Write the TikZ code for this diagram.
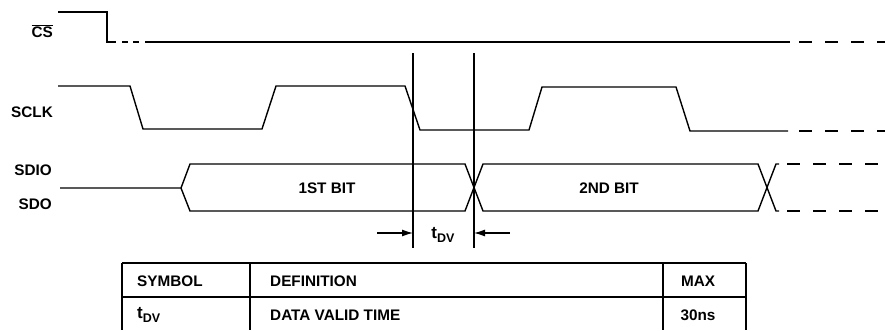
\documentclass[tikz,border=0pt]{standalone}
\usepackage{fontspec}
\setmainfont{Liberation Sans}
\usetikzlibrary{arrows.meta}
\tikzset{
  sig/.style={line width=1.4pt, line join=miter},
  dsig/.style={line width=1.4pt, dash pattern=on 13pt off 13pt},
  marker/.style={line width=1.1pt},
  lbl/.style={font=\fontsize{15.3}{17}\selectfont\bfseries, inner sep=0pt},
  tlbl/.style={font=\fontsize{17}{19}\selectfont\bfseries, inner sep=0pt},
  tbl/.style={line width=1.2pt},
  dim/.style={line width=1.2pt, -{Latex[length=11pt,width=7pt]}}
}
\newcommand{\tdvtext}{t\raisebox{-0.35ex}{\fontsize{12.5}{13}\selectfont DV}}
\begin{document}
\begin{tikzpicture}[x=1pt,y=-1pt]
\useasboundingbox (0,0) rectangle (885,330);
% labels
\node[lbl, anchor=east] (lcs) at (53,31) {$\overline{\mbox{CS}}$};
\node[lbl, anchor=east] (lsclk) at (53,112) {SCLK};
\node[lbl, anchor=east] (lsdio) at (52,170) {SDIO};
\node[lbl, anchor=east] (lsdo) at (52,204) {SDO};
% CS
\draw[sig] (58,12) -- (107,12) -- (107,42) -- (116,42);
\draw[sig] (122,42) -- (128,42);
\draw[sig] (133,42) -- (139,42);
\draw[sig] (145,42) -- (790,42);
\draw[dsig] (799,42) -- (885,42);
% SCLK
\draw[sig] (58,86) -- (130,86) -- (143,129) -- (262,129) -- (276,86) -- (405,86) -- (420,130)
  -- (529,130) -- (542,87) -- (676,87) -- (690,131) -- (788,131);
\draw[dsig] (799,131) -- (885,131);
% SDIO bus
\draw[sig] (60,188) -- (181,188) -- (190,164) -- (465,164) -- (483,211) -- (758,211) -- (776,164) -- (779,164);
\draw[sig] (181,188) -- (190,211) -- (465,211) -- (483,164) -- (758,164) -- (776,211) -- (779,211);
\draw[dsig] (787,164) -- (885,164);
\draw[dsig] (787,211) -- (885,211);
\node[lbl] (b1) at (327,188) {1ST BIT};
\node[lbl] (b2) at (609,188) {2ND BIT};
% tDV markers
\coordinate (m1t) at (413,53); \coordinate (m1b) at (413,248);
\coordinate (m2t) at (474,53); \coordinate (m2b) at (474,248);
\draw[marker] (m1t) -- (m1b);
\draw[marker] (m2t) -- (m2b);
\coordinate (a1s) at (377,233); \coordinate (a1e) at (413,233);
\coordinate (a2s) at (510,233); \coordinate (a2e) at (474,233);
\draw[dim] (a1s) -- (a1e);
\draw[dim] (a2s) -- (a2e);
\node[tlbl] (tdv) at (443,235) {\tdvtext};
% table
\draw[tbl] (122,263) -- (746,263);
\draw[tbl] (122,297) -- (746,297);
\draw[tbl] (122,263) -- (122,330);
\draw[tbl] (250,263) -- (250,330);
\draw[tbl] (663,263) -- (663,330);
\draw[tbl] (746,263) -- (746,330);
\node[lbl, anchor=west] (h1) at (137,281) {SYMBOL};
\node[lbl, anchor=west] (h2) at (270,281) {DEFINITION};
\node[lbl] (h3) at (698,281) {MAX};
\node[tlbl, anchor=west] (r1) at (137,315) {\tdvtext};
\node[lbl, anchor=west] (r2) at (270,315) {DATA VALID TIME};
\node[lbl] (r3) at (698,315) {30ns};
\end{tikzpicture}
\end{document}
